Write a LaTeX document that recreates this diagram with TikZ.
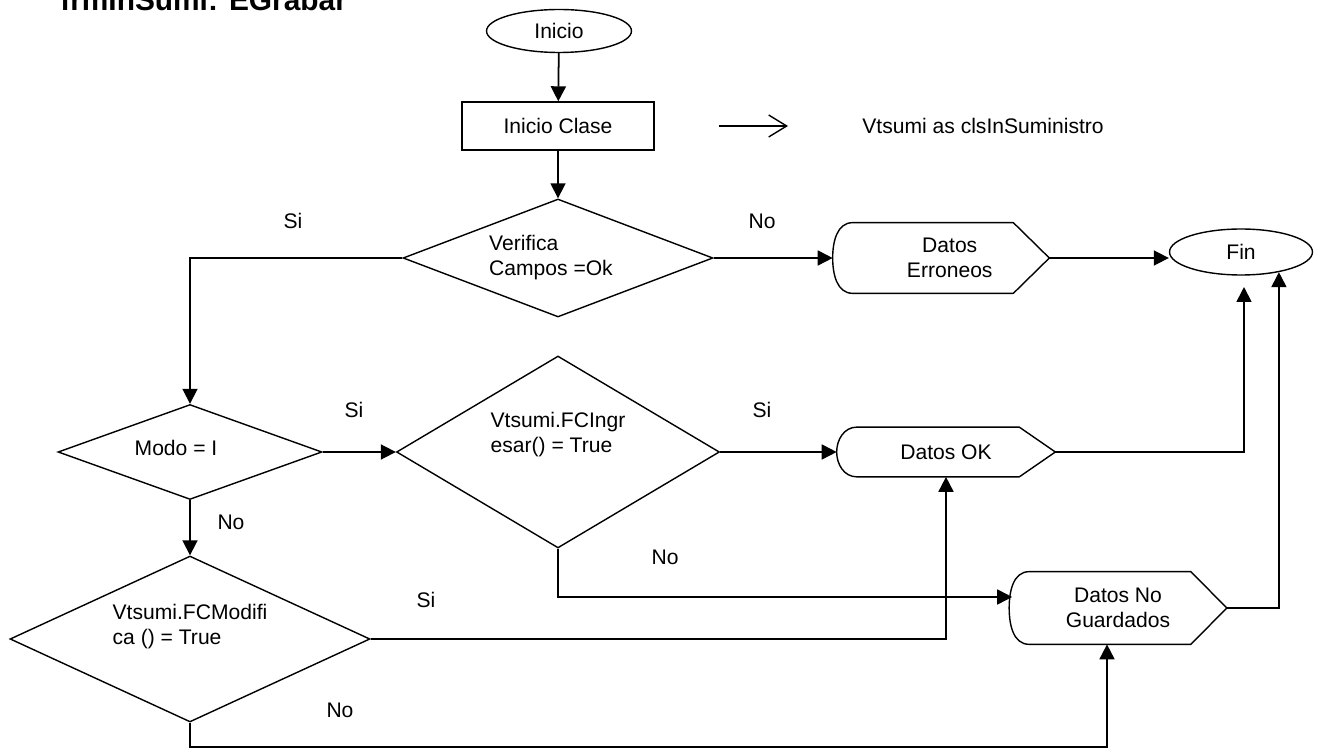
\documentclass[tikz,border=0pt]{standalone}
\usepackage{fontspec}
\setmainfont{Liberation Sans}
\usetikzlibrary{arrows.meta, positioning, shapes.geometric, calc}
\tikzset{
  txt/.style={font=\fontsize{12}{14.2}\selectfont},
  decision/.style={diamond, draw, line width=0.8pt, inner sep=0pt},
  dtext/.style={txt, align=left, inner sep=0pt},
  startstop/.style={ellipse, draw, line width=0.8pt, inner sep=0pt, txt},
  procbox/.style={rectangle, draw, line width=0.8pt, inner sep=0pt, txt},
  dispbox/.style={rectangle, inner sep=0pt, align=center, txt},
  shapeline/.style={line width=0.8pt, line join=round},
  conn/.style={-{Triangle[length=3mm, width=3mm]}, line width=1pt},
  lbl/.style={txt, inner sep=0pt},
}
% outline of a display symbol round a node
\newcommand{\displayshape}[1]{%
  \draw[shapeline] (#1.west) to[out=90, in=180] ($(#1.north west)+(20,0)$)
    -- ($(#1.north east)+(-36,0)$) -- (#1.east) -- ($(#1.south east)+(-36,0)$)
    -- ($(#1.south west)+(20,0)$) to[out=180, in=-90] (#1.west);}

\begin{document}
\begin{tikzpicture}[x=0.02cm, y=-0.02cm]
  \useasboundingbox (0,0) rectangle (1322,749);

  % title
  \node[anchor=base west, inner sep=0pt, font=\fontsize{17}{20}\selectfont\bfseries] (title) at (60,11) {frmInSumi: EGrabar};

  % nodes
  \node[startstop, minimum width=29mm, minimum height=8.6mm] (inicio) at (559,31) {Inicio};
  \node[procbox, minimum width=38.4mm, minimum height=9.6mm] (clase) at (558,126) {Inicio Clase};
  \coordinate (decl-a) at (719,126);
  \coordinate (decl-b) at (788,126);
  \node[lbl, anchor=west] (decl) at (862,126) {Vtsumi as clsInSuministro};

  \node[decision, minimum width=62mm, minimum height=23.6mm,
    label={[dtext, xshift=-1.4mm]center:{Verifica\\Campos =Ok}}] (verifica) at (558,258) {};
  \node[dispbox, minimum width=43.2mm, minimum height=14mm] (erroneos) at (941,258) {\hspace*{3.5mm}Datos\\\hspace*{3.5mm}Erroneos};
  \node[startstop, minimum width=28.6mm, minimum height=9.2mm] (fin) at (1241,252) {Fin};

  \node[decision, minimum width=52.8mm, minimum height=19mm,
    label={[dtext, xshift=-2.8mm, yshift=0.8mm]center:{Modo = I}}] (modo) at (190,452) {};
  \node[decision, minimum width=64.6mm, minimum height=38.4mm,
    label={[dtext, yshift=3.4mm]center:{Vtsumi.FCIngr\\esar() = True}}] (ingresar) at (558,452) {};
  \node[dispbox, minimum width=43.6mm, minimum height=9.8mm] (datosok) at (946,452) {Datos OK};

  \node[decision, minimum width=72mm, minimum height=33.2mm,
    label={[dtext, yshift=2.4mm]center:{Vtsumi.FCModifi\\ca () = True}}] (modifica) at (190,639) {};
  \node[dispbox, minimum width=43.4mm, minimum height=14.4mm] (noguard) at (1118,608) {Datos No\\Guardados};

  \displayshape{erroneos}
  \displayshape{datosok}
  \displayshape{noguard}

  \coordinate (fin-in) at (1244,287);

  % connectors
  \draw[conn] (inicio) -- (clase);
  \draw[line width=0.8pt, -{Straight Barb[length=3.6mm, width=4.4mm]}] (decl-a) -- (decl-b);
  \draw[conn] (clase) -- (verifica.north);
  \draw[conn] (verifica.east) -- (erroneos.west);
  \draw[conn] (verifica.west) -| (modo.north);
  \draw[conn] (erroneos.east) -- (erroneos.east -| fin.west);
  \draw[conn] (modo.east) -- (ingresar.west);
  \draw[conn] (ingresar.east) -- (datosok.west);
  \draw[conn] (datosok.east) -| (fin-in);
  \draw[conn] (modo.south) -- (modifica.north);
  \draw[conn] (ingresar.south) |- ($(noguard.west)+(3,-11)$);
  \draw[conn] (modifica.east) -| (datosok.south);
  \draw[conn] (modifica.south) -- ++(0,24) -| ($(noguard.south)+(-11,0)$);
  \draw[conn] (noguard.east) -| (fin.-28);

  % branch labels
  \node[lbl] (si-1) at (293,221) {Si};
  \node[lbl] (no-1) at (762,221) {No};
  \node[lbl] (si-2) at (354,410) {Si};
  \node[lbl] (si-3) at (762,410) {Si};
  \node[lbl] (no-2) at (231,522) {No};
  \node[lbl] (no-3) at (665,557) {No};
  \node[lbl] (si-4) at (426,600) {Si};
  \node[lbl] (no-4) at (340,710) {No};
\end{tikzpicture}
\end{document}
